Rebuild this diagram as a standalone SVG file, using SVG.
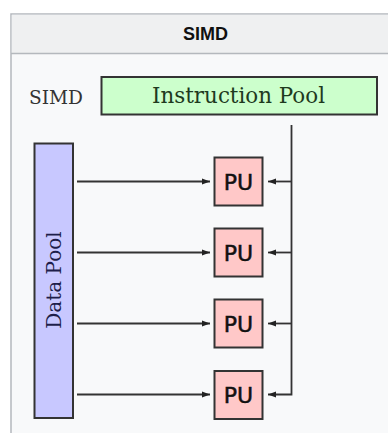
<svg xmlns="http://www.w3.org/2000/svg" width="388" height="433" viewBox="0 0 388 433">
  <defs>
    <marker id="arrow" viewBox="0 0 8 8" refX="8" refY="4" markerWidth="8" markerHeight="8" markerUnits="userSpaceOnUse" orient="auto">
      <path d="M0,1 L8,4 L0,7 Z" fill="#222"/>
    </marker>
    <style>
      .serif { font-family: "DejaVu Serif", "Liberation Serif", serif; }
      .box { stroke: #333; stroke-width: 2; }
      .pu rect { fill: #ffc8c8; }
      .pu text { font-family: "DejaVu Sans", "Liberation Sans", sans-serif; font-size: 22px; fill: #111; stroke: #111; stroke-width: 0.5; text-anchor: middle; }
      .wire { fill: none; stroke: #333; stroke-width: 1.8; }
    </style>
  </defs>

  <rect x="0" y="0" width="388" height="433" fill="#ffffff"/>

  <!-- Panel frame with title bar -->
  <g id="panel">
    <rect x="11" y="14" width="400" height="440" fill="#f8f9fa" stroke="#b4b8bd" stroke-width="1.5"/>
    <rect x="11.75" y="14.75" width="400" height="38.5" fill="#eff0f1"/>
    <line x1="11" y1="53.5" x2="388" y2="53.5" stroke="#b4b8bd" stroke-width="1.5"/>
    <text x="205.5" y="40" font-family="Liberation Sans, Arial, sans-serif" font-weight="bold" font-size="18" text-anchor="middle" fill="#111">SIMD</text>
  </g>

  <g id="simd-label">
    <text class="serif" x="29" y="104" font-size="18" fill="#333" textLength="54" lengthAdjust="spacingAndGlyphs">SIMD</text>
  </g>

  <g id="instruction-pool">
    <rect class="box" x="101.5" y="77" width="275.5" height="37.5" fill="#ccffcc"/>
    <text class="serif" x="238.5" y="103" font-size="21.5" fill="#1e3a1e" text-anchor="middle" textLength="173" lengthAdjust="spacingAndGlyphs">Instruction Pool</text>
  </g>

  <g id="data-pool">
    <rect class="box" x="34.5" y="143.5" width="38.5" height="274.5" fill="#c8c8ff"/>
    <text class="serif" transform="translate(60.5,280) rotate(-90)" x="0" y="0" font-size="20" fill="#1e1e4a" text-anchor="middle">Data Pool</text>
  </g>

  <g id="pu1" class="pu">
    <rect class="box" x="214.5" y="157.5" width="48" height="48"/>
    <text x="238.5" y="189.5">PU</text>
  </g>
  <g id="pu2" class="pu">
    <rect class="box" x="214.5" y="228.5" width="48" height="48"/>
    <text x="238.5" y="260.5">PU</text>
  </g>
  <g id="pu3" class="pu">
    <rect class="box" x="214.5" y="299.5" width="48" height="48"/>
    <text x="238.5" y="331.5">PU</text>
  </g>
  <g id="pu4" class="pu">
    <rect class="box" x="214.5" y="371" width="48" height="48"/>
    <text x="238.5" y="403">PU</text>
  </g>

  <g id="connectors">
    <!-- data feeds -->
    <line class="wire" x1="77" y1="181.5" x2="210" y2="181.5" marker-end="url(#arrow)"/>
    <line class="wire" x1="77" y1="252.5" x2="210" y2="252.5" marker-end="url(#arrow)"/>
    <line class="wire" x1="77" y1="323.5" x2="210" y2="323.5" marker-end="url(#arrow)"/>
    <line class="wire" x1="77" y1="394.5" x2="210" y2="394.5" marker-end="url(#arrow)"/>
    <!-- instruction bus -->
    <path class="wire" d="M291.5,125 V394.5 H268" marker-end="url(#arrow)"/>
    <line class="wire" x1="291.5" y1="181.5" x2="268" y2="181.5" marker-end="url(#arrow)"/>
    <line class="wire" x1="291.5" y1="252.5" x2="268" y2="252.5" marker-end="url(#arrow)"/>
    <line class="wire" x1="291.5" y1="323.5" x2="268" y2="323.5" marker-end="url(#arrow)"/>
  </g>
</svg>
